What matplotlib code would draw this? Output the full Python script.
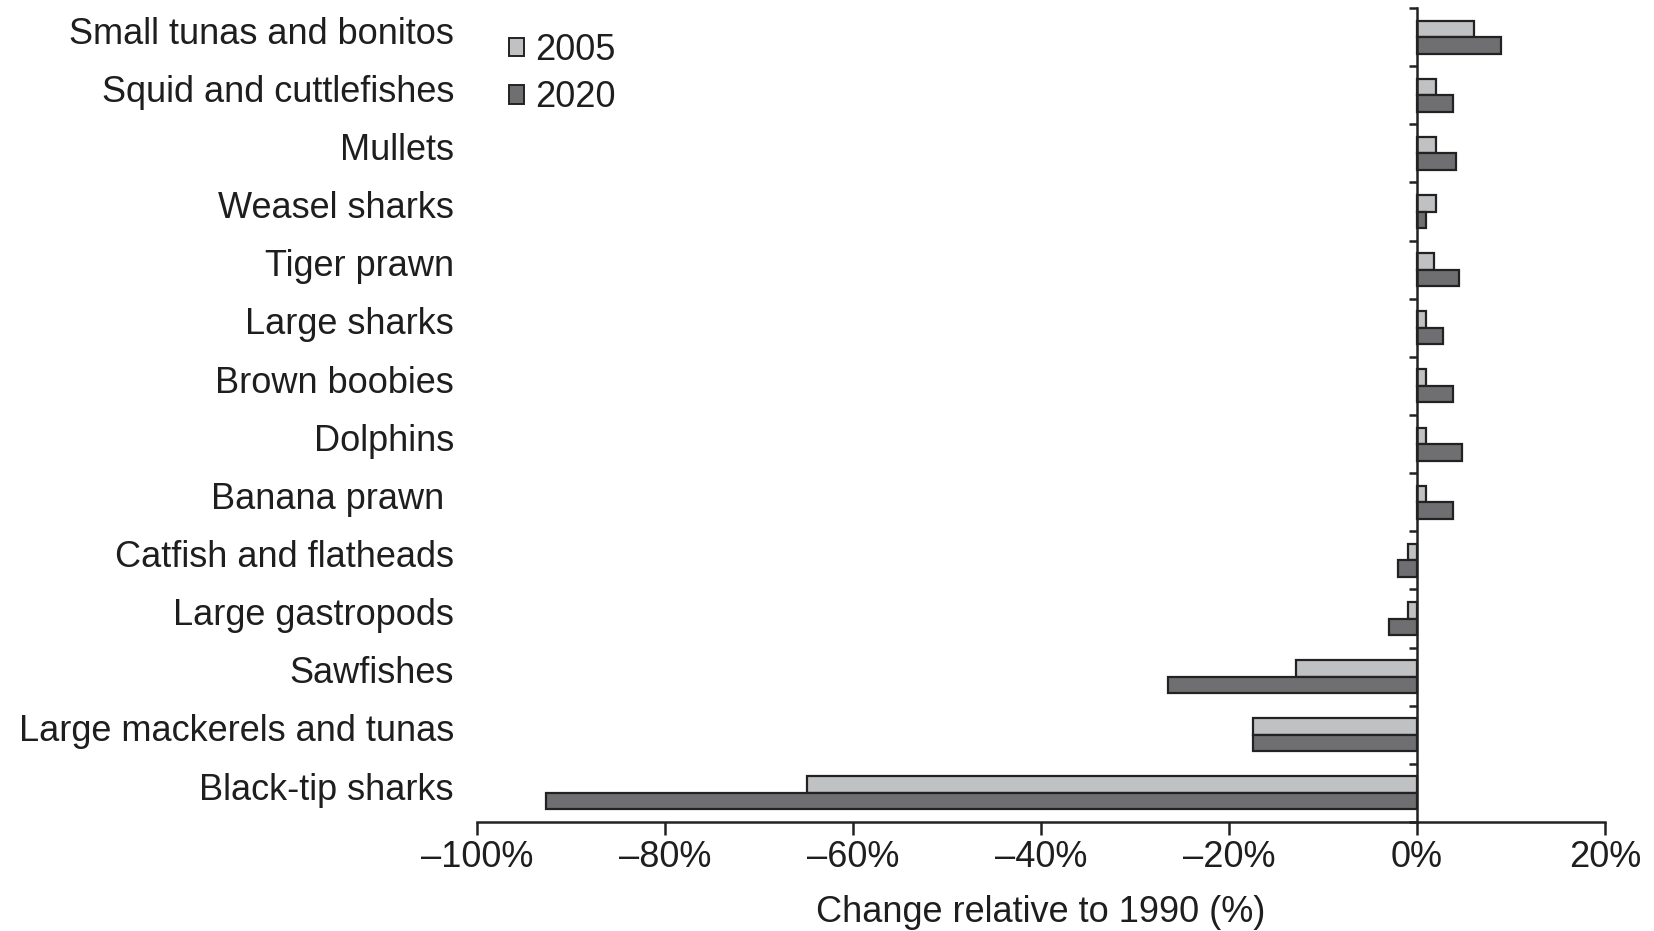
import numpy as np
import matplotlib
matplotlib.use("Agg")
import matplotlib.pyplot as plt
from matplotlib.patches import Patch
from matplotlib.ticker import FixedLocator

# ---------- Data ----------
categories = ["Small tunas and bonitos", "Squid and cuttlefishes", "Mullets",
              "Weasel sharks", "Tiger prawn", "Large sharks", "Brown boobies",
              "Dolphins", "Banana prawn ", "Catfish and flatheads",
              "Large gastropods", "Sawfishes", "Large mackerels and tunas",
              "Black-tip sharks"]
change_2005 = [6.1, 2.0, 2.0, 2.0, 1.8, 1.0, 1.0, 1.0, 1.0, -1.0, -1.0, -12.9, -17.4, -64.9]
change_2020 = [8.9, 3.8, 4.1, 1.0, 4.5, 2.8, 3.8, 4.8, 3.8, -2.0, -3.0, -26.5, -17.4, -92.7]
series_names = ["2005", "2020"]
xticks = [-100, -80, -60, -40, -20, 0, 20]

LIGHT = "#c0c1c3"
DARK = "#6f6f71"
EDGE = "#222222"
TXT = "#1e1e1e"

plt.rcParams['font.family'] = ['Liberation Sans', 'DejaVu Sans']
FS = 26

fig = plt.figure(figsize=(16.54, 9.31), dpi=100)
ax = fig.add_axes([477 / 1654, 1 - 822 / 931, (1605 - 477) / 1654, (822 - 8) / 931])

y = np.arange(len(categories))
h = 0.285
ax.barh(y - h / 2, change_2005, height=h, color=LIGHT, edgecolor=EDGE, linewidth=1.6)
ax.barh(y + h / 2, change_2020, height=h, color=DARK, edgecolor=EDGE, linewidth=1.6)

ax.set_xlim(-100, 20)
ax.set_ylim(len(categories) - 0.5, -0.5)

# spines: vertical axis crosses at 0
for s in ["top", "right"]:
    ax.spines[s].set_visible(False)
ax.spines["left"].set_position(("data", 0))
ax.spines["left"].set_color(EDGE)
ax.spines["bottom"].set_color(EDGE)
ax.spines["left"].set_linewidth(1.8)
ax.spines["bottom"].set_linewidth(1.8)

# y ticks at category boundaries, labels drawn at left
ax.yaxis.set_major_locator(FixedLocator([]))
ax.yaxis.set_minor_locator(FixedLocator(np.arange(-0.5, len(categories), 1.0)))
ax.tick_params(axis="y", which="minor", length=6, width=1.8, direction="out", color=EDGE)
ax.tick_params(axis="y", which="major", length=0)
for i, c in enumerate(categories):
    ax.text(-0.0204, i - 0.05, c, transform=ax.get_yaxis_transform(), ha="right", va="center",
            fontsize=FS, color=TXT)

ax.set_xticks(xticks)
ax.set_xticklabels([f"\u2013{abs(v)}%" if v < 0 else f"{v}%" for v in xticks])
ax.tick_params(axis="x", length=9, width=1.8, direction="out", color=EDGE,
               labelsize=FS, labelcolor=TXT, pad=4)
ax.set_xlabel("Change relative to 1990 (%)", fontsize=FS, color=TXT, labelpad=14)

handles = [Patch(facecolor=LIGHT, edgecolor=EDGE, linewidth=1.4),
           Patch(facecolor=DARK, edgecolor=EDGE, linewidth=1.4)]
fig.legend(handles, series_names, loc="upper left", bbox_to_anchor=(509 / 1654, 1 - 33 / 931),
           bbox_transform=fig.transFigure, frameon=False, fontsize=FS,
           handlelength=0.42, handleheight=0.42, handletextpad=0.3,
           labelspacing=0.34, borderpad=0, borderaxespad=0, labelcolor=TXT)

fig.savefig("out.png", dpi=100)
